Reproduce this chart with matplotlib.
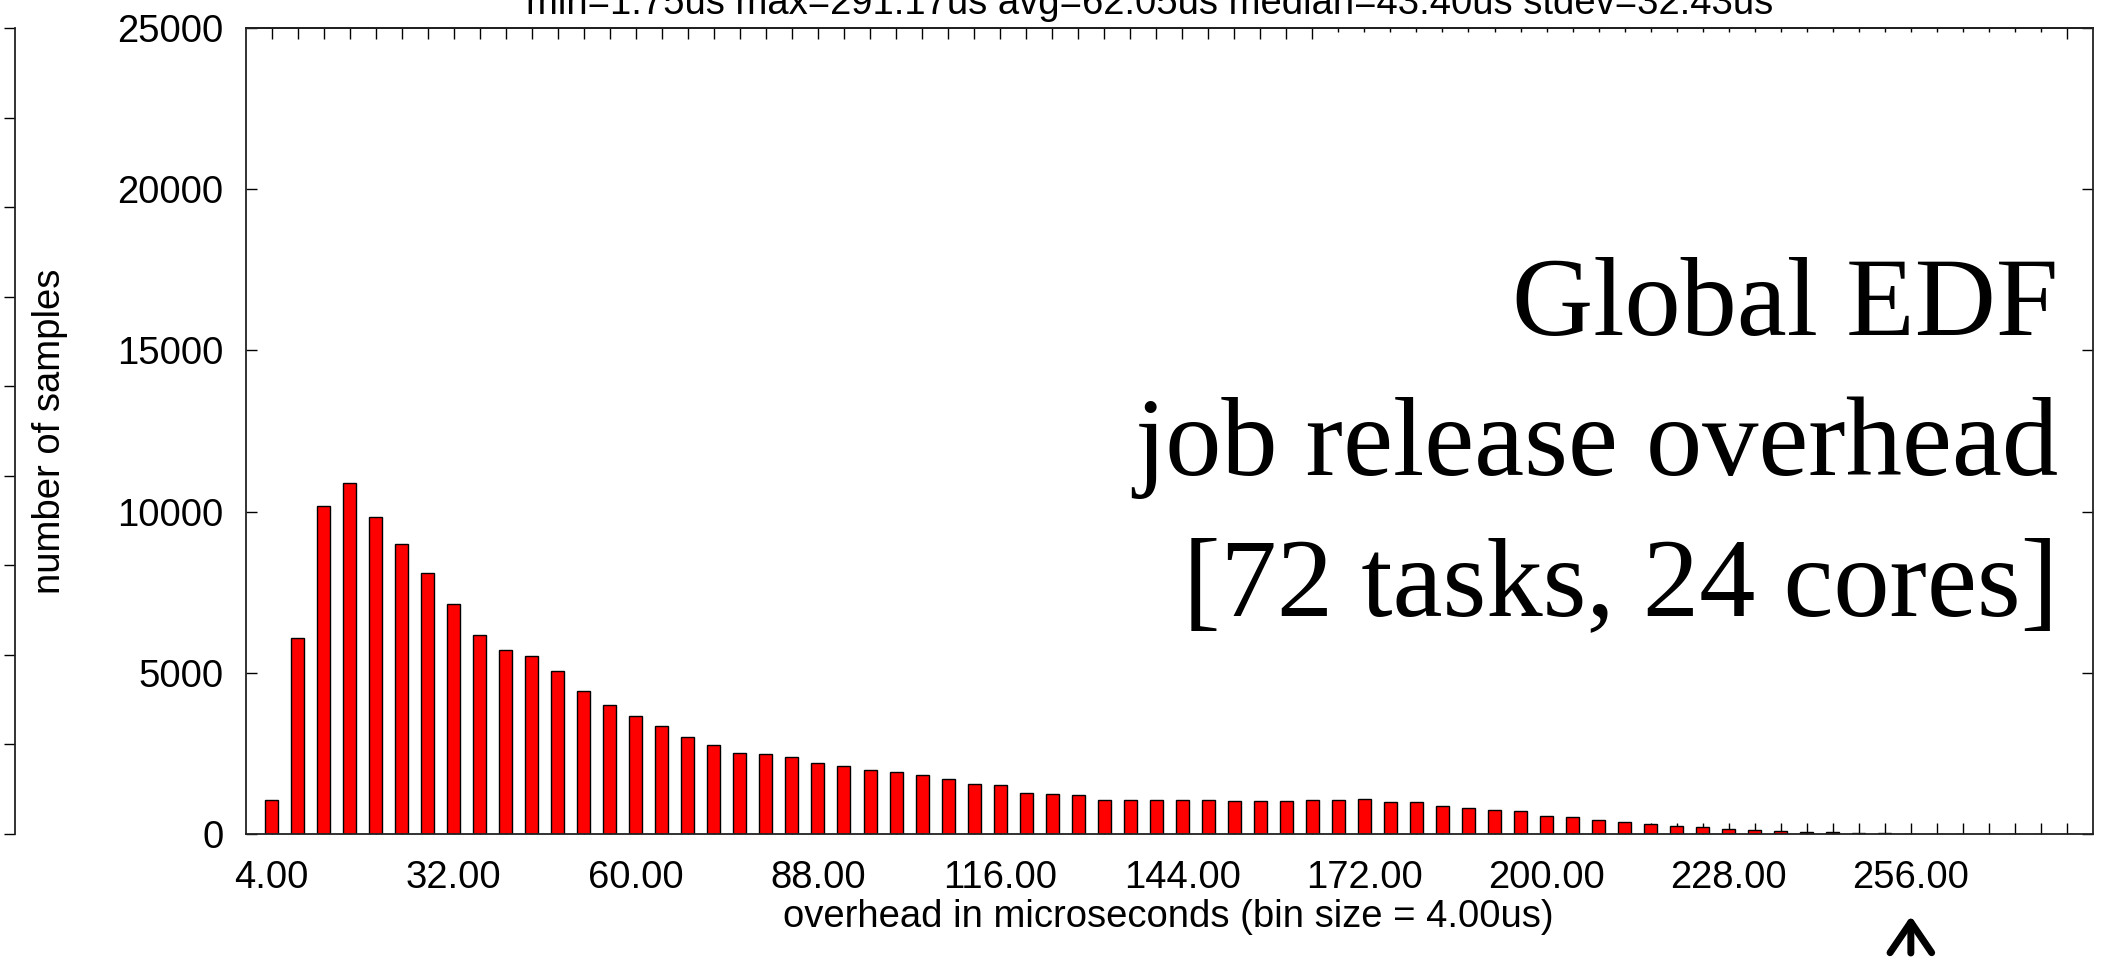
import numpy as np
import matplotlib
matplotlib.use('Agg')
import matplotlib.pyplot as plt

plt.rcParams['font.family'] = ['Liberation Sans', 'DejaVu Sans']

# histogram of job release overhead, bins of 4us (bin label = upper edge)
bin_size = 4.0
bins = np.arange(4, 284, 4)
counts = [1040, 6070, 10170, 10900, 9820, 8980, 8090, 7140, 6170, 5720,
          5510, 5070, 4450, 3990, 3670, 3340, 3000, 2770, 2510, 2480,
          2390, 2200, 2100, 1970, 1920, 1820, 1700, 1540, 1510, 1270,
          1240, 1210, 1070, 1040, 1040, 1050, 1070, 1030, 1030, 1030,
          1070, 1060, 1080, 1000, 1000, 880, 800, 750, 720, 565,
          535, 435, 385, 295, 255, 225, 140, 120, 90, 70,
          50, 40, 20, 10, 6, 4, 3, 2, 1, 1]

label_pos = [4, 32, 60, 88, 116, 144, 172, 200, 228, 256]
label_txt = ['4.00', '32.00', '60.00', '88.00', '116.00', '144.00',
             '172.00', '200.00', '228.00', '256.00']
yticks = [0, 5000, 10000, 15000, 20000, 25000]

stats = 'min=1.75us max=291.17us avg=62.05us median=43.40us stdev=32.43us'
big_lines = ['Global EDF', 'job release overhead', '[72 tasks, 24 cores]']

fs = 27.5
W, H = 2110, 965
fig = plt.figure(figsize=(W / 100, H / 100), dpi=100)

# main panel
ax = fig.add_axes([245.5 / W, 131 / H, 1847.5 / W, 806 / H])
ax.bar(bins, counts, width=2.0, color='#ff0000', edgecolor='black',
       linewidth=1.0, zorder=2)
ax.set_xlim(0, 284)
ax.set_ylim(0, 25000)

ax.set_yticks(yticks)
ax.set_yticklabels([str(v) for v in yticks])
ax.tick_params(axis='y', direction='in', length=8, width=1, left=True,
               right=True, labelsize=fs, pad=16)

xl = ['' for b in bins]
for p, t in zip(label_pos, label_txt):
    xl[list(bins).index(p)] = t
ax.set_xticks(bins)
ax.set_xticklabels(xl)
ax.tick_params(axis='x', direction='in', length=8, width=1, bottom=True,
               top=False, labelsize=fs, pad=19)

# mirrored ticks on top
top = ax.secondary_xaxis('top')
long_t = [b for b in bins if b <= 164 or b == 280]
short_t = [b for b in bins if 164 < b < 280]
top.set_xticks(long_t)
top.set_xticks(short_t, minor=True)
top.tick_params(which='major', direction='in', length=8, width=1,
                labeltop=False)
top.tick_params(which='minor', direction='in', length=3, width=1,
                labeltop=False)

for s in ax.spines.values():
    s.set_linewidth(1.3)
    s.set_color('#222222')
top.spines['top'].set_linewidth(1.3)

# right edge of the neighbouring panel
fr = fig.add_axes([-0.1, 131 / H, 0.1 + 15 / W, 806 / H])
fr.patch.set_visible(False)
fr.set_ylim(0, 9)
fr.set_yticks(range(10))
fr.yaxis.tick_right()
fr.tick_params(axis='y', direction='in', length=8, width=1, labelright=False)
fr.set_xticks([])
for k in ['left', 'top', 'bottom']:
    fr.spines[k].set_visible(False)
fr.spines['right'].set_linewidth(1.3)
fr.spines['right'].set_color('#222222')

# texts
fig.text(1150 / W, 1 - 14 / H, stats, ha='center', va='baseline', fontsize=fs)
fig.text(50 / W, 1 - 431 / H, 'number of samples', rotation=90,
         ha='center', va='center', fontsize=fs)
fig.text(1168 / W, 1 - 927 / H, 'overhead in microseconds (bin size = 4.00us)',
         ha='center', va='baseline', fontsize=fs)

for line, yb in zip(big_lines, [335, 475, 615]):
    fig.text(2058 / W, 1 - yb / H, line, ha='right', va='baseline',
             family='Liberation Serif', fontsize=81)

# arrow under the axis
ax.annotate('', xy=(256, 965 - 916), xytext=(256, 965 - 953),
            xycoords=('data', 'figure pixels'),
            textcoords=('data', 'figure pixels'),
            annotation_clip=False,
            arrowprops=dict(arrowstyle='->,head_length=1.1,head_width=0.75',
                            lw=5, color='black', mutation_scale=20,
                            shrinkA=0, shrinkB=0))

fig.savefig('out.png', dpi=100)
